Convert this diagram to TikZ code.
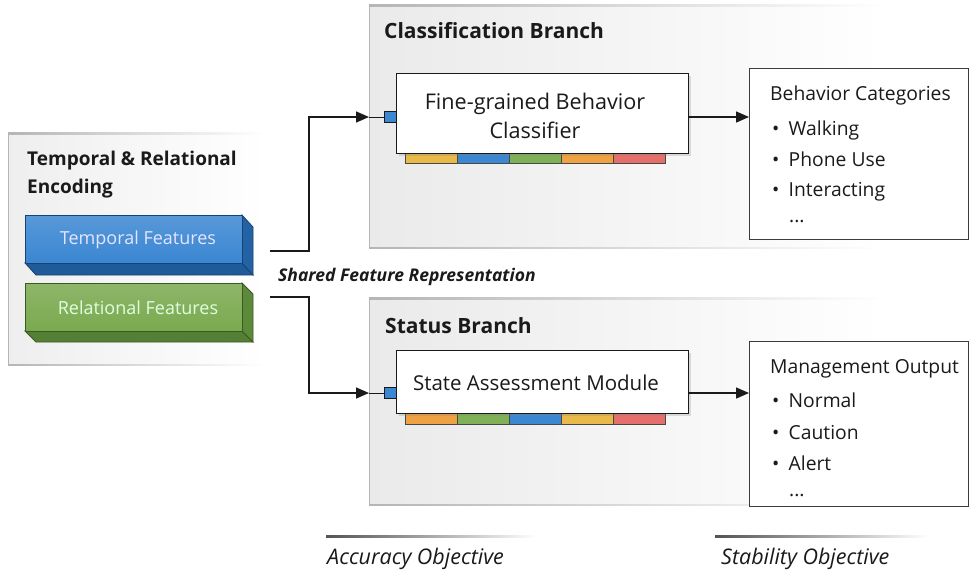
\documentclass[tikz,border=0pt]{standalone}
\usepackage{fontspec}
\setmainfont{Open Sans}
\usetikzlibrary{arrows.meta,shadows,calc}
\definecolor{pgray}{HTML}{EAEAEA}
\definecolor{bline}{HTML}{B5B5B5}
\definecolor{tblue}{HTML}{3A86D2}
\definecolor{tblueS}{HTML}{2462A6}
\definecolor{tblueB}{HTML}{1F5A99}
\definecolor{tblueD}{HTML}{1A4270}
\definecolor{rgreen}{HTML}{7AA94F}
\definecolor{rgreenS}{HTML}{5C8A3A}
\definecolor{rgreenB}{HTML}{557F34}
\definecolor{rgreenD}{HTML}{3A5A22}
\definecolor{sy}{HTML}{E9B949}
\definecolor{sb}{HTML}{3B87D1}
\definecolor{sg}{HTML}{80B157}
\definecolor{so}{HTML}{EFA243}
\definecolor{sr}{HTML}{E46F6B}
\definecolor{ink}{HTML}{1A1A1A}
\tikzset{
  panelfill/.style={left color=pgray, right color=white, draw=none},
  moduleb/.style={draw=ink, line width=1.1pt, fill=white, drop shadow={opacity=0.25, shadow xshift=2pt, shadow yshift=-2pt}},
  outbox/.style={draw=ink!85, line width=1pt, fill=white},
  seg/.style={draw=ink!80, line width=0.6pt},
  portsq/.style={draw=ink, line width=0.6pt, fill=sb, minimum width=12pt, minimum height=11pt, inner sep=0pt},
  conn/.style={draw=ink, line width=1.5pt},
  arrowconn/.style={conn, -{Triangle[length=13pt,width=11pt]}},
  ttl/.style={font=\fontsize{21}{24}\selectfont\bfseries, text=ink, anchor=base west, inner sep=0pt},
  body/.style={font=\fontsize{19.3}{22}\selectfont, text=ink, inner sep=0pt},
  objtext/.style={font=\fontsize{21.5}{24}\selectfont\itshape, text=ink, anchor=base west, inner sep=0pt},
}
\begin{document}
\begin{tikzpicture}[x=1pt,y=-1pt]
\useasboundingbox (0,0) rectangle (969,576);
\fill[white] (0,0) rectangle (969,576);

% ---------- left panel ----------
\fill[left color=pgray!80, right color=white, draw=none] (8,133) rectangle (265,365);
\shade[left color=bline, right color=white] (8,132.5) rectangle (265,134);
\shade[left color=bline, right color=white] (8,364) rectangle (265,365.5);
\fill[bline] (7.5,133) rectangle (9,365);
\node[ttl, font=\fontsize{19}{22}\selectfont\bfseries] (enc1) at (27,165) {Temporal \& Relational};
\node[ttl, font=\fontsize{19}{22}\selectfont\bfseries] (enc2) at (27,193) {Encoding};

% temporal features 3D box
\fill[tblueB, draw=tblueD, line width=0.8pt] (25,263) -- (36,275) -- (253,275) -- (242,263) -- cycle;
\fill[tblueS, draw=tblueD, line width=0.8pt] (242,215) -- (253,227) -- (253,275) -- (242,263) -- cycle;
\node[draw=tblueD, line width=0.9pt, top color=tblue!85!white, bottom color=tblue, minimum width=217pt, minimum height=48pt, anchor=north west, inner sep=0pt,
  font=\fontsize{18}{20}\selectfont, text=white!90!blue] (temp) at (25,215) {\hspace*{8pt}Temporal Features};
% relational features 3D box
\fill[rgreenB, draw=rgreenD, line width=0.8pt] (25,331) -- (36,342) -- (253,342) -- (242,331) -- cycle;
\fill[rgreenS, draw=rgreenD, line width=0.8pt] (242,283) -- (253,294) -- (253,342) -- (242,331) -- cycle;
\node[draw=rgreenD, line width=0.9pt, top color=rgreen!85!white, bottom color=rgreen, minimum width=217pt, minimum height=48pt, anchor=north west, inner sep=0pt,
  font=\fontsize{18}{20}\selectfont, text=white!88!green] (rel) at (25,283) {\hspace*{8pt}Relational Features};

% ---------- classification panel ----------
\fill[panelfill] (369,5) rectangle (885,248);
\shade[left color=bline, right color=white] (369,4.5) rectangle (885,6);
\shade[left color=bline, right color=white] (369,247) rectangle (885,248.5);
\fill[bline] (368.5,5) rectangle (370,248);
\node[ttl] (clsT) at (384,38) {Classification Branch};

% ---------- status panel ----------
\fill[panelfill] (369,298) rectangle (885,505);
\shade[left color=bline, right color=white] (369,297.5) rectangle (885,299);
\shade[left color=bline, right color=white] (369,504) rectangle (885,505.5);
\fill[bline] (368.5,298) rectangle (370,505);
\node[ttl] (stT) at (385,333) {Status Branch};

% ---------- classifier module ----------
\foreach \c [count=\i from 0] in {sy,sb,sg,so,sr}
  \filldraw[seg, fill=\c] ({405+\i*52},150) rectangle ({457+\i*52},163);
\node[moduleb, minimum width=292pt, minimum height=80pt, anchor=north west, inner sep=0pt] (cls) at (396,73) {};
\node[body, align=center, font=\fontsize{21.6}{29}\selectfont] (clsL) at (535,116) {Fine-grained Behavior\\Classifier};
\node[portsq] (p1) at (390,117) {};

% ---------- state module ----------
\foreach \c [count=\i from 0] in {so,sg,sb,sy,sr}
  \filldraw[seg, fill=\c] ({405+\i*52},410) rectangle ({457+\i*52},424);
\node[moduleb, minimum width=292pt, minimum height=63pt, anchor=north west, inner sep=0pt] (st) at (396,350) {};
\node[body, font=\fontsize{20.5}{22}\selectfont, anchor=base] (stL) at (536,390) {State Assessment Module};
\node[portsq] (p2) at (390,393) {};

% ---------- output boxes ----------
\node[outbox, minimum width=219pt, minimum height=171pt, anchor=north west, inner sep=0pt] (bc) at (749,68) {};
\node[body, anchor=base west] (bc0) at (770,100) {Behavior Categories};
\node[body, anchor=base west] (bc1) at (772,135) {\makebox[16.5pt][l]{•}Walking};
\node[body, anchor=base west] (bc2) at (772,166) {\makebox[16.5pt][l]{•}Phone Use};
\node[body, anchor=base west] (bc3) at (772,196) {\makebox[16.5pt][l]{•}Interacting};
\node[body, anchor=base west] (bc4) at (789,222) {...};

\node[outbox, minimum width=219pt, minimum height=165pt, anchor=north west, inner sep=0pt] (mo) at (749,341) {};
\node[body, anchor=base west] (mo0) at (770,373) {Management Output};
\node[body, anchor=base west] (mo1) at (772,407) {\makebox[16.5pt][l]{•}Normal};
\node[body, anchor=base west] (mo2) at (772,439) {\makebox[16.5pt][l]{•}Caution};
\node[body, anchor=base west] (mo3) at (772,470) {\makebox[16.5pt][l]{•}Alert};
\node[body, anchor=base west] (mo4) at (789,496) {...};

% ---------- connectors ----------
\coordinate (s1) at (270,251);
\coordinate (s2) at (270,297);
\coordinate (a1) at (369,117);
\coordinate (a2) at (369,393);
\draw[arrowconn] (s1) -- (309,251) |- (a1);
\draw[conn, line width=1pt] (a1) -- (p1.west);
\draw[arrowconn] (s2) -- (309,297) |- (a2);
\draw[conn, line width=1pt] (a2) -- (p2.west);
\draw[arrowconn] (cls.east |- p1) -- (bc.west |- p1);
\draw[arrowconn] (st.east |- p2) -- (mo.west |- p2);

\node[font=\fontsize{17.5}{20}\selectfont\bfseries\itshape, text=ink, anchor=base west, inner sep=0pt] (shared) at (278,281) {Shared Feature Representation};

% ---------- objectives ----------
\shade[left color=ink!75, right color=white] (326,535.3) rectangle (537,537.3);
\shade[left color=ink!75, right color=white] (715,535.3) rectangle (929,537.3);
\node[objtext] (acc) at (327,564) {Accuracy Objective};
\node[objtext] (stab) at (721,564) {Stability Objective};
\end{tikzpicture}
\end{document}
